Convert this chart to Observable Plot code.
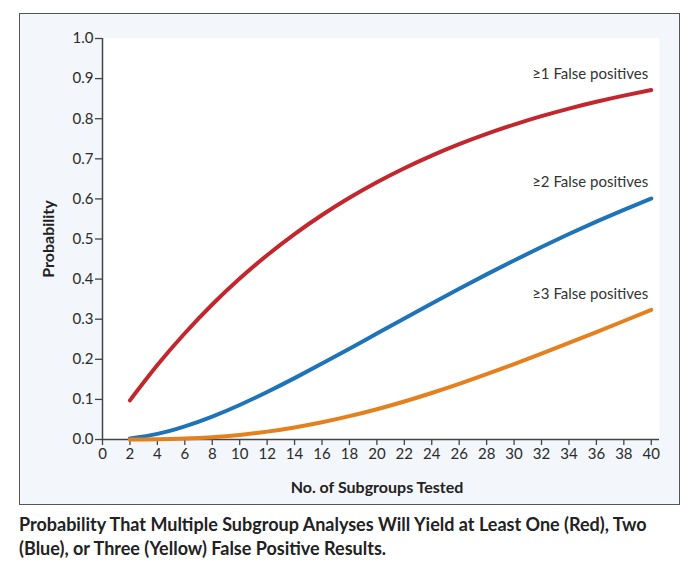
<!DOCTYPE html>
<html><head><meta charset="utf-8">
<script src="https://cdn.jsdelivr.net/npm/d3@7"></script>
<script src="https://cdn.jsdelivr.net/npm/@observablehq/plot@0.6"></script>
<style>
body{margin:0;background:#fff;font-family:Lato,sans-serif;}
#wrap{position:relative;width:690px;height:563px;}
#box{position:absolute;left:19px;top:13px;width:659px;height:490px;border:1.5px solid #555;background:#f3f7fb;}
#chart{position:absolute;left:0;top:0;}
#caption{position:absolute;left:19px;top:512px;width:660px;font-weight:bold;font-size:18px;line-height:24px;color:#222;}
</style></head>
<body>
<div id="wrap"><div id="box"></div><div id="chart"></div>
<div id="caption">Probability That Multiple Subgroup Analyses Will Yield at Least One (Red), Two (Blue), or Three (Yellow) False Positive Results.</div></div>
<script>
const subgroups = [2,4,6,8,10,12,14,16,18,20,22,24,26,28,30,32,34,36,38,40];
const atLeast1 = [0.0975,0.1855,0.2649,0.3366,0.4013,0.4596,0.5123,0.5599,0.6028,0.6415,0.6765,0.7080,0.7365,0.7622,0.7854,0.8063,0.8252,0.8422,0.8576,0.8715];
const atLeast2 = [0.0025,0.0140,0.0328,0.0572,0.0861,0.1184,0.1530,0.1893,0.2265,0.2642,0.3018,0.3392,0.3759,0.4118,0.4465,0.4801,0.5124,0.5433,0.5728,0.6009];
const atLeast3 = [0.0000,0.0005,0.0022,0.0057,0.0115,0.0196,0.0301,0.0430,0.0582,0.0755,0.0948,0.1160,0.1386,0.1628,0.1879,0.2140,0.2407,0.2680,0.2955,0.3232];
const seriesLabels = ["\u22651 False positives","\u22652 False positives","\u22653 False positives"];
const seriesColors = ["#c1272d","#1f74b9","#e5801f"];
const xTicks = [0,2,4,6,8,10,12,14,16,18,20,22,24,26,28,30,32,34,36,38,40];
const yTicks = [0,0.1,0.2,0.3,0.4,0.5,0.6,0.7,0.8,0.9,1.0];

const allSeries = [atLeast1, atLeast2, atLeast3];
const rows = allSeries.map((vals, i) => vals.map((p, j) => ({n: subgroups[j], p, s: seriesLabels[i]})));
const ends = rows.map(r => r[r.length - 1]);

const chart = Plot.plot({
  width: 690, height: 510,
  marginLeft: 102, marginRight: 31, marginTop: 38, marginBottom: 71,
  style: {background: "transparent", fontFamily: "Lato, sans-serif", fontSize: "15px"},
  x: {domain: [0, 40.6]},
  y: {domain: [0, 1]},
  marks: [
    Plot.frame({fill: "white", stroke: null}),
    Plot.axisY(yTicks, {tickFormat: d => d.toFixed(1), tickSize: 7, tickPadding: 2, label: null, stroke: "#444", fill: "#2a2a2a", strokeWidth: 1.3, fontSize: 15}),
    Plot.axisX(xTicks, {tickSize: 6, tickPadding: 3, label: null, stroke: "#444", fill: "#2a2a2a", strokeWidth: 1.3, fontSize: 15}),
    Plot.ruleX([0], {stroke: "#444", strokeWidth: 1.5}),
    Plot.ruleY([0], {stroke: "#444", strokeWidth: 1.5}),
    ...rows.map((r, i) => Plot.line(r, {x: "n", y: "p", stroke: seriesColors[i], strokeWidth: 4, curve: "natural", strokeLinecap: "round"})),
    Plot.text(ends, {x: "n", y: "p", text: "s", textAnchor: "end", dx: -3, dy: -16, fill: "#333", fontSize: 15}),
    Plot.text(["No. of Subgroups Tested"], {frameAnchor: "bottom", dx: -4, dy: 53, fontWeight: "bold", fill: "#222", fontSize: 16}),
    Plot.text(["Probability"], {frameAnchor: "left", textAnchor: "middle", rotate: -90, dx: -54, fontWeight: "bold", fill: "#222", fontSize: 16})
  ]
});
document.getElementById("chart").appendChild(chart);
</script>
</body></html>
